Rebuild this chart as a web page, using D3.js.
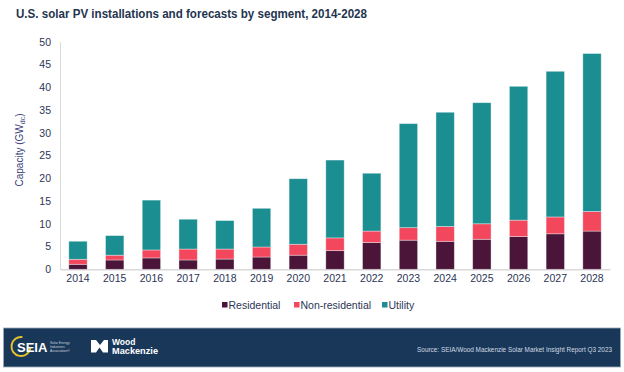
<!DOCTYPE html>
<html>
<head>
<meta charset="utf-8">
<script src="https://cdn.jsdelivr.net/npm/d3@7"></script>
<style>
  body { margin: 0; background: #fff; }
  svg { display: block; font-family: Arial, "Liberation Sans", sans-serif; }
</style>
</head>
<body>
<div id="chart"></div>
<script>

var years = ["2014","2015","2016","2017","2018","2019","2020","2021","2022","2023","2024","2025","2026","2027","2028"];
var residential    = [1.1, 2.05, 2.5, 2.05, 2.25, 2.7, 3.1, 4.1, 5.9, 6.4, 6.15, 6.6, 7.2, 7.8, 8.4];
var nonResidential = [1.1, 1.05, 1.75, 2.4, 2.2, 2.2, 2.4, 2.8, 2.5, 2.75, 3.25, 3.4, 3.6, 3.7, 4.3];
var utility        = [3.96, 4.3, 10.95, 6.55, 6.25, 8.5, 14.4, 17.1, 12.7, 22.85, 25.1, 26.6, 29.4, 32.0, 34.7];
var seriesNames = ["Residential", "Non-residential", "Utility"];
var colors = ["#4a1538", "#f2475c", "#1b8e91"];
var yTicks = [0, 5, 10, 15, 20, 25, 30, 35, 40, 45, 50];

var width = 624, height = 372;

var svg = d3.select("#chart").append("svg")
  .attr("width", width)
  .attr("height", height);

// title
svg.append("text")
  .attr("x", 16).attr("y", 18)
  .attr("font-size", 12).attr("font-weight", "bold")
  .attr("fill", "#1f3550")
  .attr("textLength", 351).attr("lengthAdjust", "spacingAndGlyphs")
  .text("U.S. solar PV installations and forecasts by segment, 2014-2028");

var x = d3.scaleBand().domain(years).range([60, 610]).paddingInner(0.5).paddingOuter(0.24);
var y = d3.scaleLinear().domain([0, 50]).range([269.3, 41.7]);

var table = years.map(function(yr, i) {
  return { year: yr, Residential: residential[i], "Non-residential": nonResidential[i], Utility: utility[i] };
});
var stacked = d3.stack().keys(seriesNames)(table);

// y axis
var yAxis = svg.append("g")
  .attr("transform", "translate(60,0)")
  .call(d3.axisLeft(y).tickValues(yTicks).tickSize(0).tickPadding(9));
yAxis.select(".domain").attr("stroke", "#d9d9d9");
yAxis.selectAll("text").attr("font-size", 10.5).attr("fill", "#2b3556").attr("font-family", "Arial, 'Liberation Sans', sans-serif");

// x axis
var xAxis = svg.append("g")
  .attr("transform", "translate(0,269.3)")
  .call(d3.axisBottom(x).tickSize(0).tickPadding(5));
xAxis.select(".domain").attr("stroke", "#d9d9d9").attr("stroke-width", 1.5);
xAxis.selectAll("text").attr("font-size", 10.5).attr("fill", "#2b3556").attr("font-family", "Arial, 'Liberation Sans', sans-serif");

// bars
svg.append("g").selectAll("g")
  .data(stacked)
  .enter().append("g")
  .attr("fill", function(d, i) { return colors[i]; })
  .selectAll("rect")
  .data(function(d) { return d; })
  .enter().append("rect")
  .attr("x", function(d) { return x(d.data.year); })
  .attr("width", x.bandwidth())
  .attr("y", function(d) { return y(d[1]); })
  .attr("height", function(d) { return y(d[0]) - y(d[1]); })
  .attr("stroke", "#ffffff")
  .attr("stroke-opacity", 0.45)
  .attr("stroke-width", 0.8);

// y axis title
var yt = svg.append("text")
  .attr("transform", "translate(23,150) rotate(-90)")
  .attr("text-anchor", "middle")
  .attr("font-size", 10)
  .attr("fill", "#3d3f7c");
yt.append("tspan").text("Capacity (GW");
yt.append("tspan").attr("font-size", 7).attr("dy", 2).text("dc");
yt.append("tspan").attr("dy", -2).text(")");

// legend
var legendX = [222, 294, 382];
var legend = svg.append("g").selectAll("g")
  .data(seriesNames)
  .enter().append("g")
  .attr("transform", function(d, i) { return "translate(" + legendX[i] + ",305)"; });
legend.append("rect")
  .attr("x", 0).attr("y", -3).attr("width", 5.5).attr("height", 5.5)
  .attr("fill", function(d, i) { return colors[i]; });
legend.append("text")
  .attr("x", 6.5).attr("y", 3.8)
  .attr("font-size", 10.5).attr("fill", "#2b3556")
  .text(function(d) { return d; });

// footer band
var footer = svg.append("g");
footer.append("rect")
  .attr("x", 3.5).attr("y", 328).attr("width", 617).attr("height", 39)
  .attr("fill", "#183759").attr("stroke", "#9aa8b8").attr("stroke-width", 0.8);

// SEIA logo
footer.append("path")
  .attr("d", d3.arc()({ innerRadius: 8.5, outerRadius: 10.5, startAngle: Math.PI * 0.55, endAngle: Math.PI * 2.05 }))
  .attr("transform", "translate(21,346.5)")
  .attr("fill", "#e6c229");
footer.append("text")
  .attr("x", 17).attr("y", 352)
  .attr("font-size", 13).attr("font-weight", "bold").attr("fill", "#ffffff")
  .text("SEIA");
["Solar Energy", "Industries", "Association\u00ae"].forEach(function(t, i) {
  footer.append("text")
    .attr("x", 50).attr("y", 344 + i * 3.8)
    .attr("font-size", 3.4).attr("fill", "#c9d2dc")
    .text(t);
});

// Wood Mackenzie logo
footer.append("path")
  .attr("d", "M91,340 L96,340 L100,345 L104,340 L108,340 L108,352.5 L103,352.5 L99.5,347.5 L96,352.5 L91,352.5 Z")
  .attr("fill", "#ffffff");
footer.append("text")
  .attr("x", 112).attr("y", 344.8)
  .attr("font-size", 8.5).attr("font-weight", "bold").attr("fill", "#ffffff")
  .text("Wood");
footer.append("text")
  .attr("x", 112).attr("y", 353.8)
  .attr("font-size", 8.5).attr("font-weight", "bold").attr("fill", "#ffffff")
  .attr("textLength", 46).attr("lengthAdjust", "spacingAndGlyphs")
  .text("Mackenzie");

// source
footer.append("text")
  .attr("x", 612).attr("y", 351.5)
  .attr("text-anchor", "end")
  .attr("font-size", 6.4).attr("fill", "#d3dbe4")
  .text("Source: SEIA/Wood Mackenzie Solar Market Insight Report Q3 2023");

</script>
</body>
</html>
